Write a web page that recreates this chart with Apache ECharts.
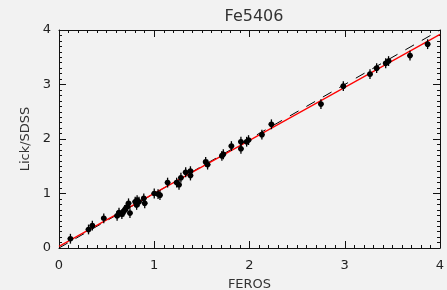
<!DOCTYPE html>
<html>
<head>
<meta charset="utf-8">
<script src="https://cdn.jsdelivr.net/npm/echarts@6/dist/echarts.min.js"></script>
<style>
  html, body { margin: 0; padding: 0; background: #f2f2f2; }
  #chart { width: 447px; height: 290px; }
</style>
</head>
<body>
<div id="chart"></div>
<script>
const feros = [0.12, 0.31, 0.35, 0.47, 0.61, 0.63, 0.66, 0.68, 0.69, 0.72, 0.73, 0.745,
  0.80, 0.815, 0.82, 0.84, 0.89, 0.90, 1.00, 1.04, 1.06, 1.14, 1.235, 1.26, 1.28,
  1.33, 1.38, 1.38, 1.54, 1.56, 1.71, 1.725, 1.81, 1.91, 1.91, 1.97, 1.99, 2.13,
  2.23, 2.75, 2.985, 3.265, 3.335, 3.43, 3.46, 3.685, 3.87];
const lick = [0.17, 0.34, 0.41, 0.545, 0.59, 0.65, 0.62, 0.67, 0.70, 0.76, 0.82, 0.64,
  0.85, 0.79, 0.88, 0.85, 0.91, 0.82, 1.00, 0.99, 0.97, 1.20, 1.20, 1.16, 1.29,
  1.39, 1.41, 1.33, 1.58, 1.53, 1.69, 1.72, 1.87, 1.95, 1.82, 1.95, 1.98, 2.08,
  2.27, 2.64, 2.97, 3.19, 3.30, 3.39, 3.43, 3.53, 3.74];
const errX = 0.03;
const errY = 0.09;

// one-to-one line and the fitted relation
const oneToOne = [[0, 0], [4, 4]];
const fitLine = [[0, 0.03], [4, 3.92]];

const ticks = [0, 1, 2, 3, 4];

const chart = echarts.init(document.getElementById('chart'));

const points = feros.map((x, i) => [x, lick[i], errX, errY]);

const axisCommon = {
  min: 0, max: 4, interval: 1,
  axisLine: { onZero: false, lineStyle: { color: '#111', width: 1 } },
  axisTick: { inside: true, length: 7, lineStyle: { color: '#111' } },
  minorTick: { show: true, splitNumber: 10, length: 3, lineStyle: { color: '#111' } },
  splitLine: { show: false },
  axisLabel: { color: '#222', fontSize: 13, fontFamily: 'DejaVu Sans', margin: 11,
    formatter: v => (ticks.includes(v) ? String(v) : '') }
};

chart.setOption({
  backgroundColor: '#f2f2f2',
  animation: false,
  title: {
    text: 'Fe5406', left: 249, top: 4, textAlign: 'center',
    textStyle: { fontSize: 16, fontWeight: 'normal', color: '#333', fontFamily: 'DejaVu Sans' }
  },
  grid: { left: 59, right: 7, top: 30, bottom: 42, outerBoundsMode: 'none', containLabel: false },
  xAxis: [
    Object.assign({}, axisCommon, {
      type: 'value', position: 'bottom',
      name: 'FEROS', nameLocation: 'middle', nameGap: 30,
      nameTextStyle: { color: '#333', fontSize: 13, fontFamily: 'DejaVu Sans' }
    }),
    Object.assign({}, axisCommon, {
      type: 'value', position: 'top', axisLabel: { show: false }
    })
  ],
  yAxis: [
    Object.assign({}, axisCommon, {
      type: 'value', position: 'left',
      name: 'Lick/SDSS', nameLocation: 'middle', nameGap: 14,
      nameTextStyle: { color: '#333', fontSize: 13, fontFamily: 'DejaVu Sans' },
      axisLabel: Object.assign({}, axisCommon.axisLabel, { margin: 8 })
    }),
    Object.assign({}, axisCommon, {
      type: 'value', position: 'right', axisLabel: { show: false }
    })
  ],
  series: [
    {
      type: 'line', data: oneToOne, symbol: 'none', silent: true,
      lineStyle: { color: '#000', width: 1, type: [10, 9] }
    },
    {
      type: 'line', data: fitLine, symbol: 'none', silent: true, z: 3,
      lineStyle: { color: '#ff0000', width: 1.2 }
    },
    {
      type: 'custom', z: 4,
      data: points,
      renderItem: (params, api) => {
        const x = api.value(0), y = api.value(1);
        const ex = api.value(2), ey = api.value(3);
        const c = api.coord([x, y]);
        const top = api.coord([x, y + ey]);
        const bot = api.coord([x, y - ey]);
        const lft = api.coord([x - ex, y]);
        const rgt = api.coord([x + ex, y]);
        const st = { stroke: '#000', lineWidth: 1.3 };
        return {
          type: 'group',
          children: [
            { type: 'line', shape: { x1: top[0], y1: top[1], x2: bot[0], y2: bot[1] }, style: st },
            { type: 'line', shape: { x1: lft[0], y1: lft[1], x2: rgt[0], y2: rgt[1] }, style: st },
            { type: 'circle', shape: { cx: c[0], cy: c[1], r: 2.8 }, style: { fill: '#000' } }
          ]
        };
      }
    }
  ]
});
</script>
</body>
</html>
